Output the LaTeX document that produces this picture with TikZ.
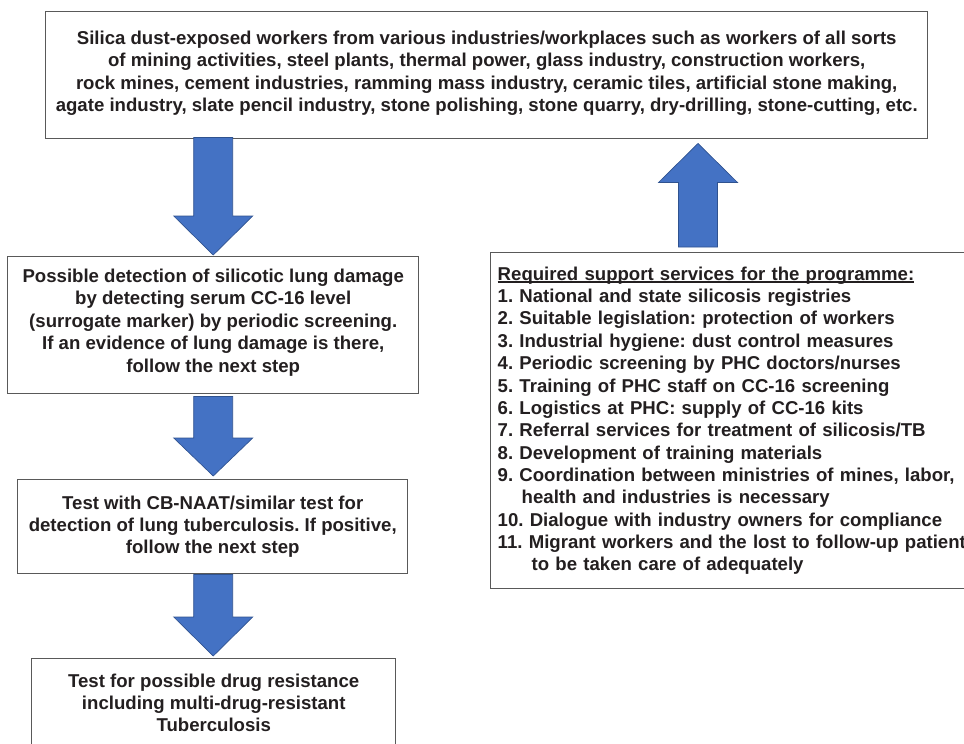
\documentclass[tikz,border=0pt]{standalone}
\usepackage{fontspec}
\setmainfont{Liberation Sans}
\usepackage{xcolor}
\usetikzlibrary{calc}
\definecolor{boxline}{HTML}{595959}
\definecolor{inktext}{HTML}{231F20}
\definecolor{arrowfill}{HTML}{4472C4}
\definecolor{arrowline}{HTML}{2F528F}
\frenchspacing

\newsavebox{\headbox}
\newcommand{\headline}[1]{\sbox{\headbox}{#1}\rlap{\rule[-1.8pt]{\wd\headbox}{1pt}}\usebox{\headbox}}

% #1 tail, #2 tip, #3 head length (signed)
\newcommand{\blockarrow}[3]{%
  \draw[fatarrow] ($(#1)+(-19.5,0)$) -- ($(#2)+(-19.5,#3)$) -- ($(#2)+(-39.5,#3)$)
    -- (#2) -- ($(#2)+(39.5,#3)$) -- ($(#2)+(19.5,#3)$) -- ($(#1)+(19.5,0)$) -- cycle;}

\begin{document}
\begin{tikzpicture}[x=0.75pt,y=-0.75pt,
  box/.style={draw=boxline, line width=1.1pt, fill=white, text=inktext,
    font=\fontsize{13.95}{16.76}\selectfont\bfseries, inner sep=0pt, align=center},
  fatarrow/.style={fill=arrowfill, draw=arrowline, line width=0.5pt}]
   \useasboundingbox (0,0) rectangle (964,743);
   \clip (0,0) rectangle (964,743);

   \node[box, anchor=north west, minimum width=661.5pt, minimum height=95.25pt, text depth=6pt] (workers) at (45,11)
     {Silica dust-exposed workers from various industries/workplaces such as workers of all sorts\\
      of mining activities, steel plants, thermal power, glass industry, construction workers,\\
      rock mines, cement industries, ramming mass industry, ceramic tiles, artificial stone making,\\
      agate industry, slate pencil industry, stone polishing, stone quarry, dry-drilling, stone-cutting, etc.};
   \node[box, anchor=north west, minimum width=308.25pt, minimum height=102.75pt, text depth=7pt] (damage) at (7,256)
     {Possible detection of silicotic lung damage\\
      by detecting serum CC-16 level\\
      (surrogate marker) by periodic screening.\\
      If an evidence of lung damage is there,\\
      follow the next step};
   \node[box, anchor=north west, minimum width=292.5pt, minimum height=70.5pt] (naat) at (17,479)
     {Test with CB-NAAT/similar test for\\
      detection of lung tuberculosis. If positive,\\
      follow the next step};
   \node[box, anchor=north west, minimum width=273pt, minimum height=66pt] (mdr) at (31,658)
     {Test for possible drug resistance\\
      including multi-drug-resistant\\
      Tuberculosis};
   \node[box, anchor=north west, align=left, text width=375pt, inner xsep=5.25pt, minimum height=252pt] (support) at (490,252)
     {\headline{Required support services for the programme:}\\
      1. National and state silicosis registries\\
      2. Suitable legislation: protection of workers\\
      3. Industrial hygiene: dust control measures\\
      4. Periodic screening by PHC doctors/nurses\\
      5. Training of PHC staff on CC-16 screening\\
      6. Logistics at PHC: supply of CC-16 kits\\
      7. Referral services for treatment of silicosis/TB\\
      8. Development of training materials\\
      9. Coordination between ministries of mines, labor,\\
      \hspace*{18pt}health and industries is necessary\\
      10. Dialogue with industry owners for compliance\\
      11. Migrant workers and the lost to follow-up patients\\
      \hspace*{25.5pt}to be taken care of adequately};

   \coordinate (t1) at ($(damage.north |- workers.south)+(0,-2)$);
   \coordinate (h1) at ($(damage.north)+(0,-1)$);
   \coordinate (t2) at ($(damage.south)+(0,2)$);
   \coordinate (h2) at ($(damage.south |- naat.north)+(0,-3)$);
   \coordinate (t3) at (damage.south |- naat.south);
   \coordinate (h3) at ($(damage.south |- mdr.north)+(0,-2)$);
   \coordinate (t4) at ($(support.north west)+(208,-5)$);
   \coordinate (h4) at ($(t4 |- workers.south)+(0,4)$);

   \blockarrow{t1}{h1}{-39}
   \blockarrow{t2}{h2}{-38}
   \blockarrow{t3}{h3}{-39}
   \blockarrow{t4}{h4}{39}
 \end{tikzpicture}
\end{document}
